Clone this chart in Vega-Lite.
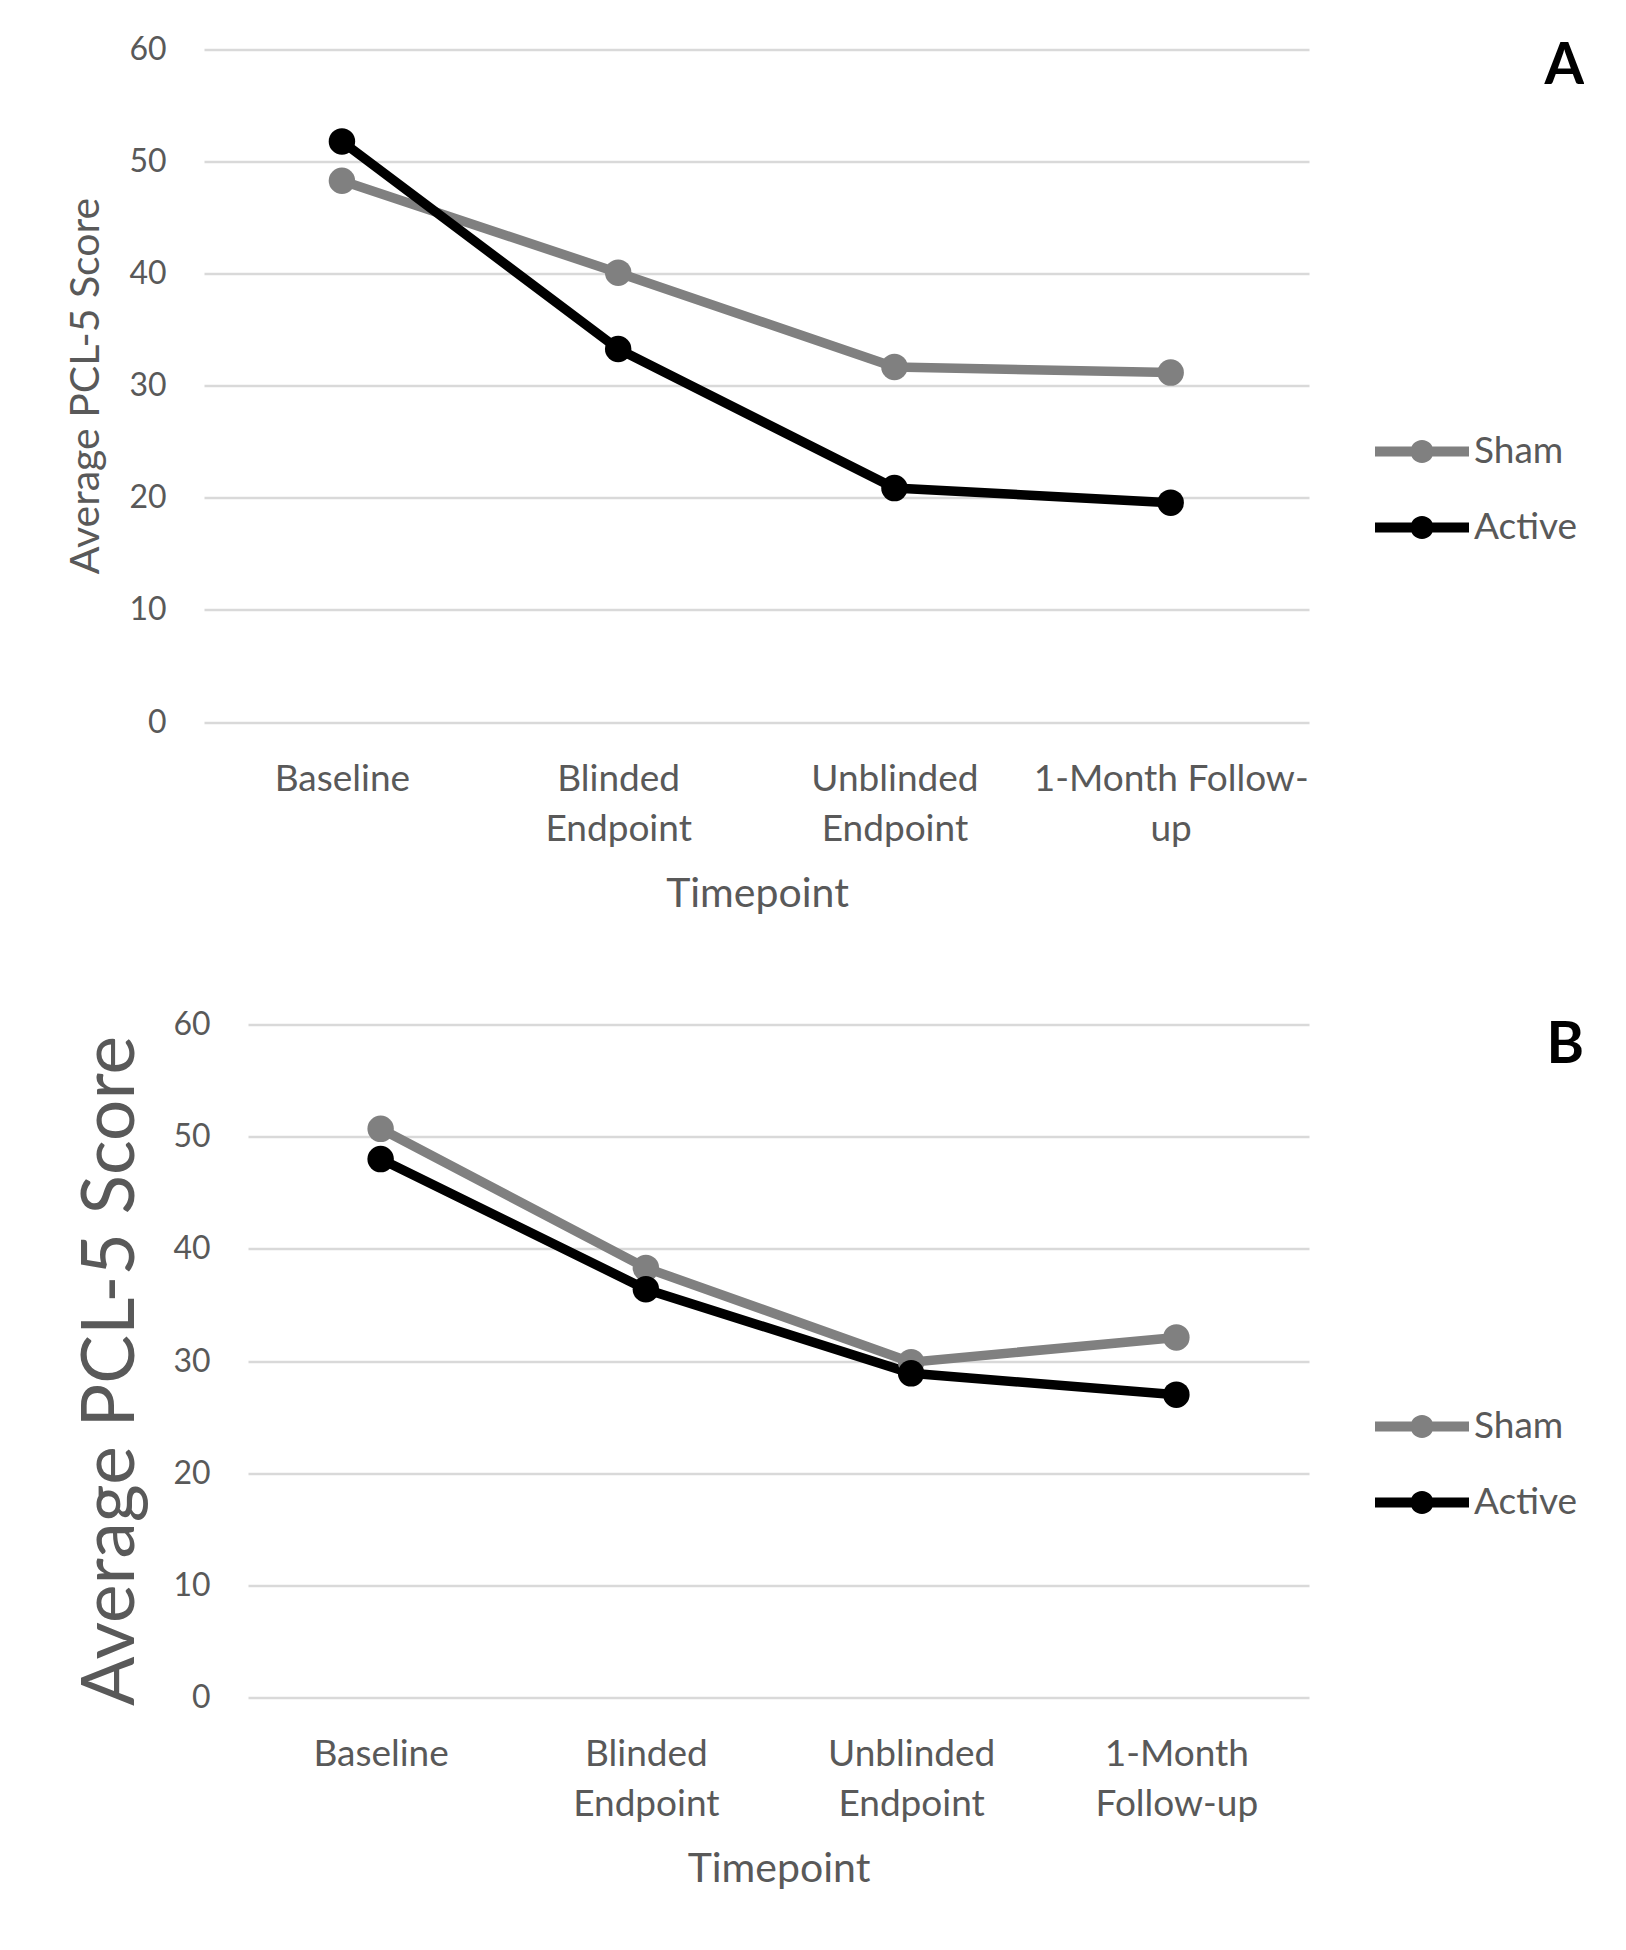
{
  "$schema": "https://vega.github.io/schema/vega-lite/v6.json",
  "background": "white",
  "padding": {"left": 75, "top": 37.5, "right": 0, "bottom": 0},
  "spacing": 94,
  "config": {
    "font": "Lato",
    "view": {"stroke": null},
    "axis": {
      "labelColor": "#595959",
      "titleColor": "#595959",
      "labelFont": "Lato",
      "titleFont": "Lato",
      "titleFontWeight": "normal",
      "domain": false,
      "ticks": false,
      "gridColor": "#d9d9d9",
      "gridWidth": 2.6
    },
    "legend": {
      "labelFont": "Lato",
      "labelColor": "#595959",
      "labelFontSize": 37
    }
  },
  "resolve": {"legend": {"color": "independent"}, "scale": {"color": "independent", "x": "independent", "y": "independent"}},
  "vconcat": [
    {
      "width": 1105,
      "height": 673,
      "title": {"text": "A", "anchor": "end", "frame": "group", "fontSize": 57, "fontWeight": "bold", "color": "#000000", "font": "Lato", "dx": 231, "dy": 50},
      "data": {"values": [
        {"timepoint": "Baseline", "group": "Sham", "score": 48.3},
        {"timepoint": "Blinded Endpoint", "group": "Sham", "score": 40.1},
        {"timepoint": "Unblinded Endpoint", "group": "Sham", "score": 31.7},
        {"timepoint": "1-Month Follow-up", "group": "Sham", "score": 31.2},
        {"timepoint": "Baseline", "group": "Active", "score": 51.8},
        {"timepoint": "Blinded Endpoint", "group": "Active", "score": 33.3},
        {"timepoint": "Unblinded Endpoint", "group": "Active", "score": 20.9},
        {"timepoint": "1-Month Follow-up", "group": "Active", "score": 19.6}
      ]},
      "encoding": {
        "x": {
          "field": "timepoint", "type": "nominal",
          "sort": ["Baseline", "Blinded Endpoint", "Unblinded Endpoint", "1-Month Follow-up"],
          "scale": {"type": "point", "padding": 0.5, "align": 0.34},
          "axis": {
            "labelAngle": 0, "labelFontSize": 37, "labelPadding": 39, "labelLineHeight": 50, "labelLimit": 500,
            "labelExpr": "datum.value == '1-Month Follow-up' ? ['1-Month Follow-', 'up'] : split(datum.value, ' ')",
            "title": "Timepoint", "titleFontSize": 41, "titlePadding": 27, "titleX": 509, "grid": false
          }
        }
      },
      "layer": [
        {
          "mark": {"type": "point", "opacity": 0},
          "encoding": {
            "y": {
              "field": "score", "type": "quantitative",
              "scale": {"domain": [0, 60], "range": [716.5, 43.5]},
              "axis": {
                "values": [0, 10, 20, 30, 40, 50, 60],
                "translate": -43.5,
                "labelFontSize": 32, "labelPadding": 38,
                "title": "Average PCL-5 Score", "titleFontSize": 41, "titlePadding": 21
              }
            }
          }
        },
        {
          "encoding": {
            "y": {"field": "score", "type": "quantitative", "scale": {"domain": [0, 60]}, "axis": null},
            "color": {
              "field": "group", "type": "nominal",
              "scale": {"domain": ["Sham", "Active"], "range": ["#808080", "#000000"]},
              "legend": {
                "orient": "none", "legendX": 1127, "legendY": 355, "title": null, "padding": 0,
                "symbolType": "M-1,-0.106L-0.22,-0.106L-0.22,0.106L-1,0.106Z M0.22,-0.106L1,-0.106L1,0.106L0.22,0.106Z M0.245,0A0.245,0.245 0 1,1 -0.245,0A0.245,0.245 0 1,1 0.245,0Z",
                "symbolSize": 8836, "symbolStrokeWidth": 0, "labelOffset": 5, "rowPadding": 11,
                "encode": {"symbols": {"update": {
                  "fill": [{"test": "datum.value === 'Sham'", "value": "#808080"}, {"value": "#000000"}],
                  "stroke": {"value": "transparent"},
                  "opacity": {"value": 1}
                }}}
              }
            }
          },
          "layer": [
            {"mark": {"type": "line", "strokeWidth": 9.5}},
            {"mark": {"type": "point", "filled": true, "size": 700, "opacity": 1}}
          ]
        }
      ],
      "resolve": {"scale": {"y": "independent"}, "axis": {"y": "independent"}}
    },
    {
      "width": 1061,
      "height": 673,
      "title": {"text": "B", "anchor": "end", "frame": "group", "fontSize": 57, "fontWeight": "bold", "color": "#000000", "font": "Lato", "dx": 275, "dy": 70},
      "data": {"values": [
        {"timepoint": "Baseline", "group": "Sham", "score": 50.7},
        {"timepoint": "Blinded Endpoint", "group": "Sham", "score": 38.3},
        {"timepoint": "Unblinded Endpoint", "group": "Sham", "score": 29.9},
        {"timepoint": "1-Month Follow-up", "group": "Sham", "score": 32.1},
        {"timepoint": "Baseline", "group": "Active", "score": 48.0},
        {"timepoint": "Blinded Endpoint", "group": "Active", "score": 36.4},
        {"timepoint": "Unblinded Endpoint", "group": "Active", "score": 28.9},
        {"timepoint": "1-Month Follow-up", "group": "Active", "score": 27.0}
      ]},
      "encoding": {
        "x": {
          "field": "timepoint", "type": "nominal",
          "sort": ["Baseline", "Blinded Endpoint", "Unblinded Endpoint", "1-Month Follow-up"],
          "scale": {"type": "point", "padding": 0.5},
          "axis": {
            "labelAngle": 0, "labelFontSize": 37, "labelPadding": 39, "labelLineHeight": 50, "labelLimit": 500,
            "labelExpr": "split(datum.value, ' ')",
            "title": "Timepoint", "titleFontSize": 41, "titlePadding": 27, "grid": false
          }
        },
        "y": {
          "field": "score", "type": "quantitative",
          "scale": {"domain": [0, 60]},
          "axis": {
            "values": [0, 10, 20, 30, 40, 50, 60],
            "labelFontSize": 32, "labelPadding": 38,
            "title": "Average PCL-5 Score", "titleFontSize": 73, "titlePadding": 24, "titleY": 346
          }
        },
        "color": {
          "field": "group", "type": "nominal",
          "scale": {"domain": ["Sham", "Active"], "range": ["#808080", "#000000"]},
          "legend": {
            "orient": "none", "legendX": 1127, "legendY": 355, "title": null, "padding": 0,
            "symbolType": "M-1,-0.106L-0.22,-0.106L-0.22,0.106L-1,0.106Z M0.22,-0.106L1,-0.106L1,0.106L0.22,0.106Z M0.245,0A0.245,0.245 0 1,1 -0.245,0A0.245,0.245 0 1,1 0.245,0Z",
            "symbolSize": 8836, "symbolStrokeWidth": 0, "labelOffset": 5, "rowPadding": 11,
            "encode": {"symbols": {"update": {
              "fill": [{"test": "datum.value === 'Sham'", "value": "#808080"}, {"value": "#000000"}],
              "stroke": {"value": "transparent"},
              "opacity": {"value": 1}
            }}}
          }
        }
      },
      "layer": [
        {"mark": {"type": "line", "strokeWidth": 9.5}},
        {"mark": {"type": "point", "filled": true, "size": 700, "opacity": 1}}
      ]
    }
  ]
}
